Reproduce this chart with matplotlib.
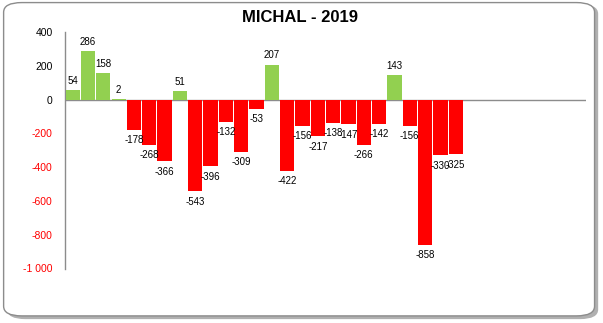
import matplotlib.pyplot as plt
import numpy as np
from matplotlib.patches import FancyBboxPatch
from matplotlib.ticker import FuncFormatter

# weekly balance values (26 filled slots out of 34 on the axis)
values = [54, 286, 158, 2, -178, -268, -366, 51, -543, -396, -132, -309, -53,
          207, -422, -156, -217, -138, -147, -266, -142, 143, -156, -858, -330, -325]
n_slots = 34
y_ticks = [400, 200, 0, -200, -400, -600, -800, -1000]
title = 'MICHAL - 2019'

GREEN = '#92D050'
RED = '#FF0000'

plt.rcParams['font.family'] = ['Liberation Sans', 'DejaVu Sans']

fig = plt.figure(figsize=(6.03, 3.23), dpi=100)

# rounded chart frame with a soft shadow
shadow = FancyBboxPatch((0.012, 0.012), 0.98, 0.975, boxstyle='round,pad=0,rounding_size=0.03',
                        transform=fig.transFigure, facecolor='#b0b0b0', edgecolor='none', zorder=0)
frame = FancyBboxPatch((0.006, 0.022), 0.98, 0.97, boxstyle='round,pad=0,rounding_size=0.03',
                       transform=fig.transFigure, facecolor='white', edgecolor='#8c8c8c',
                       linewidth=1.0, zorder=1)
fig.patches.extend([shadow, frame])

ax = fig.add_axes([65 / 603, 1 - 268.5 / 323, (586 - 65) / 603, (268.5 - 32) / 323])
ax.set_facecolor('none')
ax.set_zorder(2)

x = np.arange(len(values))
colors = [GREEN if v > 0 else RED for v in values]
ax.bar(x, values, width=0.93, color=colors, align='center', zorder=3)

for xi, v in zip(x, values):
    if v >= 0:
        ax.annotate(str(v), (xi, v), xytext=(0, 3), textcoords='offset points',
                    ha='center', va='bottom', fontsize=7, color='black')
    else:
        ax.annotate(str(v), (xi, v), xytext=(0, -4), textcoords='offset points',
                    ha='center', va='top', fontsize=7, color='black')

ax.set_xlim(-0.5, n_slots - 0.5)
ax.set_ylim(-1000, 400)
ax.set_yticks(y_ticks)


def fmt(v, pos):
    s = f'{abs(int(v)):,}'.replace(',', '\u00a0')
    return ('-' + s) if v < 0 else s


ax.yaxis.set_major_formatter(FuncFormatter(fmt))
for lab, v in zip(ax.get_yticklabels(), y_ticks):
    lab.set_color(RED if v < 0 else 'black')
ax.tick_params(axis='y', length=0, labelsize=7.5, pad=9)
ax.set_xticks([])

ax.axhline(0, color='#8c8c8c', linewidth=1.0, zorder=2)
for side in ['top', 'right', 'bottom']:
    ax.spines[side].set_visible(False)
ax.spines['left'].set_color('#8c8c8c')
ax.spines['left'].set_linewidth(1.0)

fig.text(0.497, 1 - 17 / 323, title, ha='center', va='center', fontsize=12,
         fontweight='bold', zorder=3)

fig.savefig('out.png', dpi=100)
